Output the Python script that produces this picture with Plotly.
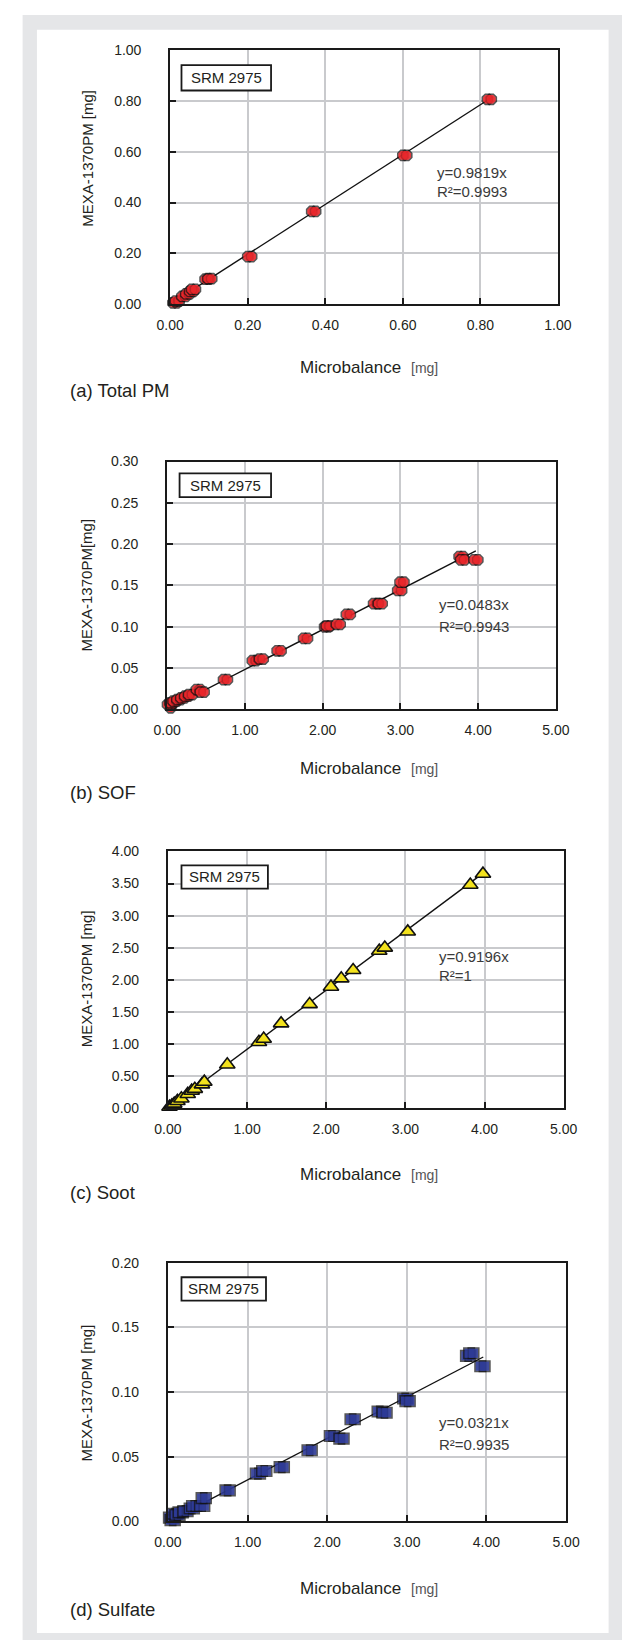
import plotly.graph_objects as go

# ---------------- data ----------------
total_x = [0.012, 0.018, 0.035, 0.045, 0.055, 0.060, 0.095, 0.102, 0.205, 0.370, 0.605, 0.823]
total_y = [0.005, 0.012, 0.030, 0.040, 0.050, 0.058, 0.098, 0.100, 0.187, 0.365, 0.586, 0.807]

sof_x = [0.02, 0.03, 0.06, 0.10, 0.15, 0.20, 0.25, 0.30, 0.40, 0.45, 0.75, 1.12, 1.21, 1.44,
         1.78, 2.05, 2.07, 2.20, 2.33, 2.68, 2.74, 2.99, 3.02, 3.78, 3.80, 3.97]
sof_y = [0.002, 0.006, 0.008, 0.010, 0.012, 0.014, 0.016, 0.018, 0.024, 0.021, 0.036, 0.059, 0.061, 0.071,
         0.086, 0.100, 0.101, 0.103, 0.115, 0.128, 0.128, 0.144, 0.154, 0.185, 0.181, 0.181]

soot_x = [0.02, 0.05, 0.08, 0.12, 0.17, 0.25, 0.30, 0.34, 0.43, 0.46, 0.75, 1.15, 1.21, 1.43,
          1.79, 2.06, 2.19, 2.34, 2.67, 2.74, 3.03, 3.82, 3.98]
soot_y = [0.02, 0.04, 0.07, 0.11, 0.15, 0.22, 0.27, 0.30, 0.37, 0.41, 0.68, 1.03, 1.08, 1.32,
          1.62, 1.89, 2.02, 2.15, 2.45, 2.50, 2.75, 3.48, 3.65]

sulf_x = [0.04, 0.06, 0.09, 0.12, 0.16, 0.22, 0.30, 0.33, 0.43, 0.45, 0.75, 1.13, 1.21, 1.43,
          1.78, 2.06, 2.18, 2.32, 2.66, 2.72, 2.98, 3.01, 3.77, 3.81, 3.95]
sulf_y = [0.003, 0.001, 0.006, 0.005, 0.007, 0.008, 0.010, 0.012, 0.012, 0.018, 0.024, 0.037, 0.039, 0.042,
          0.055, 0.066, 0.064, 0.079, 0.085, 0.084, 0.095, 0.093, 0.128, 0.130, 0.120]

slopes = [0.9819, 0.0483, 0.9196, 0.0321]
r2_texts = ["0.9993", "0.9943", "1", "0.9935"]
fit_x_ranges = [[0.02, 0.83], [0.0, 3.97], [0.0, 3.97], [0.02, 3.96]]
x_ranges = [[0, 1.0], [0, 5.0], [0, 5.0], [0, 5.0]]
y_ranges = [[0, 1.0], [0, 0.30], [0, 4.0], [0, 0.20]]
x_dticks = [0.2, 1.0, 1.0, 1.0]
y_dticks = [0.2, 0.05, 0.5, 0.05]
panel_labels = ["(a) Total PM", "(b) SOF", "(c) Soot", "(d) Sulfate"]
y_titles = ["MEXA-1370PM [mg]", "MEXA-1370PM[mg]", "MEXA-1370PM [mg]", "MEXA-1370PM [mg]"]
x_title_main = "Microbalance"
x_title_unit = "[mg]"
box_text = "SRM 2975"

# ---------------- layout geometry (pixels) ----------------
W, H = 636, 1648
FONT = "Liberation Sans, Arial, Helvetica, sans-serif"
# plot areas: left, right, top, bottom
areas = [(163.4, 569.0, 42.7, 299.0),
         (160.2, 566.9, 458.0, 708.3),
         (161.0, 575.0, 851.7, 1111.0),
         (161.0, 577.5, 1267.0, 1528.3)]
boxes = [(175.2, 268.9, 57.7, 83.3), (173.2, 268.9, 470.0, 494.0),
         (175.2, 265.6, 865.7, 889.3), (175.2, 263.6, 1281.7, 1305.3)]
eq_pos = [(440, 165.7, 185.7), (442, 602.3, 625.0), (442, 958.3, 976.7), (443, 1428.3, 1450.7)]
ytitle_y = [151.5, 582.5, 980.0, 1398.3]
xtitle_y = [363.0, 768.3, 1178.3, 1595.7]
label_y = [386.7, 791.7, 1196.0, 1617.3]


def px(v):
    return v / W


def py(v):
    return 1 - v / H


series = [
    (total_x, total_y, "octagon", "#e8262b"),
    (sof_x, sof_y, "octagon", "#e8262b"),
    (soot_x, soot_y, "triangle-up", "#f3e21d"),
    (sulf_x, sulf_y, "square", "#2e3a96"),
]


def marker_trace(x, y, symbol, color, xa, ya, ppu):
    lw = 1.6
    if symbol == "triangle-up":
        return go.Scatter(x=x, y=y, mode="markers", xaxis=xa, yaxis=ya, cliponaxis=False,
                          showlegend=False,
                          marker=dict(symbol=symbol, size=13.5, color=color,
                                      line=dict(width=lw, color="#111111")))
    size = 11.0 if symbol == "octagon" else 10.5
    d = (2.0 if symbol == "octagon" else 2.3) / ppu
    X, Y, S, LW, LC = [], [], [], [], []
    for xi, yi in zip(x, y):
        X += [xi - d, xi + d, xi - d, xi + d]
        Y += [yi] * 4
        S += [size, size, size - lw, size - lw]
        LW += [lw, lw, 0, 0]
        LC += ["#111111", "#111111", color, color]
    return go.Scatter(x=X, y=Y, mode="markers", xaxis=xa, yaxis=ya, cliponaxis=False,
                      showlegend=False, hoverinfo="skip",
                      marker=dict(symbol=symbol, size=S, color=color,
                                  line=dict(width=LW, color=LC)))


fig = go.Figure()
layout = dict(width=W, height=H, margin=dict(l=0, r=0, t=0, b=0),
              paper_bgcolor="white", plot_bgcolor="white", showlegend=False,
              font=dict(family=FONT, color="#231f20"))
shapes = [
    dict(type="rect", xref="paper", yref="paper", x0=px(9), x1=px(636), y0=py(1648), y1=py(7),
         fillcolor="#e5e6e8", line=dict(width=0), layer="below"),
    dict(type="rect", xref="paper", yref="paper", x0=px(24), x1=px(622), y0=py(1641), y1=py(22),
         fillcolor="white", line=dict(width=0), layer="below"),
]
annotations = []

for i in range(4):
    n = "" if i == 0 else str(i + 1)
    xa, ya = "x" + n, "y" + n
    l, r, t, b = areas[i]
    ppu = (r - l) / (x_ranges[i][1] - x_ranges[i][0])
    axis_common = dict(showgrid=True, gridcolor="#c9cacd", gridwidth=1.5,
                       showline=True, linecolor="#1a1a1a", linewidth=2, mirror=True,
                       ticks="inside", ticklen=6, tickwidth=1.5, tickcolor="#1a1a1a",
                       tickformat=".2f", zeroline=False,
                       tickfont=dict(family=FONT, size=14, color="#231f20"))
    layout["xaxis" + n] = dict(axis_common, domain=[px(l), px(r)], range=x_ranges[i],
                               dtick=x_dticks[i], tick0=0, anchor=ya, ticklabelstandoff=7)
    layout["yaxis" + n] = dict(axis_common, domain=[py(b), py(t)], range=y_ranges[i],
                               dtick=y_dticks[i], tick0=0, anchor=xa, ticklabelstandoff=24)

    # fit line
    fx = fit_x_ranges[i]
    fig.add_trace(go.Scatter(x=fx, y=[slopes[i] * v for v in fx], mode="lines",
                             xaxis=xa, yaxis=ya, cliponaxis=False, showlegend=False,
                             line=dict(color="#111111", width=1.4)))
    sx, sy, sym, col = series[i]
    fig.add_trace(marker_trace(sx, sy, sym, col, xa, ya, ppu))

    # SRM box
    bl, br, bt, bb = boxes[i]
    shapes.append(dict(type="rect", xref="paper", yref="paper", x0=px(bl), x1=px(br),
                       y0=py(bb), y1=py(bt), fillcolor="white",
                       line=dict(color="#1a1a1a", width=1.8), layer="above"))
    annotations.append(dict(xref="paper", yref="paper", x=px((bl + br) / 2), y=py((bt + bb) / 2),
                            text=box_text, showarrow=False, xanchor="center", yanchor="middle",
                            font=dict(family=FONT, size=15, color="#231f20")))
    # equation
    ex, e1, e2 = eq_pos[i]
    annotations.append(dict(xref="paper", yref="paper", x=px(ex), y=py(e1),
                            text="y=%.4fx" % slopes[i], showarrow=False,
                            xanchor="left", yanchor="middle",
                            font=dict(family=FONT, size=15, color="#3a3a3a")))
    annotations.append(dict(xref="paper", yref="paper", x=px(ex), y=py(e2),
                            text="R\u00b2=" + r2_texts[i], showarrow=False,
                            xanchor="left", yanchor="middle",
                            font=dict(family=FONT, size=15, color="#3a3a3a")))
    # y title
    annotations.append(dict(xref="paper", yref="paper", x=px(76), y=py(ytitle_y[i]),
                            text=y_titles[i], showarrow=False, textangle=-90,
                            xanchor="center", yanchor="middle",
                            font=dict(family=FONT, size=15, color="#231f20")))
    # x title (main word + smaller unit)
    annotations.append(dict(xref="paper", yref="paper", x=px(407), y=py(xtitle_y[i]),
                            text=x_title_main, showarrow=False, xanchor="right", yanchor="middle",
                            font=dict(family=FONT, size=17, color="#231f20")))
    annotations.append(dict(xref="paper", yref="paper", x=px(413), y=py(xtitle_y[i] + 0.5),
                            text=x_title_unit, showarrow=False, xanchor="left", yanchor="middle",
                            font=dict(family=FONT, size=14, color="#555555")))
    # panel label
    annotations.append(dict(xref="paper", yref="paper", x=px(56), y=py(label_y[i]),
                            text=panel_labels[i], showarrow=False, xanchor="left", yanchor="middle",
                            font=dict(family=FONT, size=18.5, color="#231f20")))

layout["shapes"] = shapes
layout["annotations"] = annotations
fig.update_layout(**layout)
fig.write_html("out.html",
               post_script="document.body.style.margin='0';document.body.style.overflow='hidden';")
